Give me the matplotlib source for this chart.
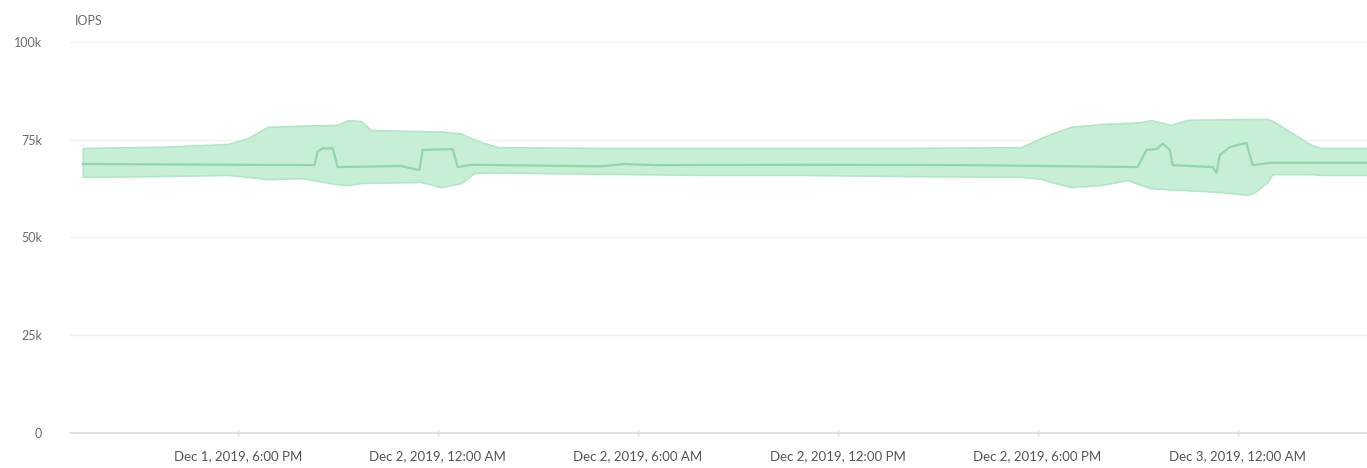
import pandas as pd
import matplotlib.pyplot as plt
import matplotlib.dates as mdates

# band (min/max), values in thousands
band_time = [
    "2019-12-01 13:21", "2019-12-01 15:42", "2019-12-01 17:42", "2019-12-01 18:18",
    "2019-12-01 18:54", "2019-12-01 19:54", "2019-12-01 21:00", "2019-12-01 21:18",
    "2019-12-01 21:42", "2019-12-01 22:00", "2019-12-01 22:54", "2019-12-01 23:30",
    "2019-12-02 00:06", "2019-12-02 00:42", "2019-12-02 01:06", "2019-12-02 01:48",
    "2019-12-02 04:54", "2019-12-02 08:00", "2019-12-02 11:00", "2019-12-02 14:00",
    "2019-12-02 17:30", "2019-12-02 18:06", "2019-12-02 18:24", "2019-12-02 19:00",
    "2019-12-02 19:54", "2019-12-02 20:42", "2019-12-02 21:06", "2019-12-02 21:24",
    "2019-12-02 22:00", "2019-12-02 22:30", "2019-12-02 23:30", "2019-12-03 00:18",
    "2019-12-03 00:30", "2019-12-03 00:54", "2019-12-03 01:03", "2019-12-03 02:12",
    "2019-12-03 02:30", "2019-12-03 03:54",
]
band_hi = [72.9, 73.2, 73.9, 75.4, 78.3, 78.6, 78.8, 80.0, 79.8, 77.5, 77.3, 77.2,
           77.1, 76.6, 75.0, 73.1, 72.9, 72.9, 72.9, 72.9, 73.1, 75.4, 76.5, 78.3,
           79.0, 79.3, 79.5, 80.0, 78.8, 80.1, 80.2, 80.3, 80.3, 80.3, 79.8, 73.7,
           72.9, 72.9]
band_lo = [65.5, 65.7, 66.0, 65.5, 64.9, 65.2, 63.6, 63.4, 63.9, 64.0, 64.1, 64.2,
           62.9, 63.9, 66.5, 66.6, 66.3, 66.0, 66.0, 65.7, 65.5, 65.0, 64.2, 62.9,
           63.4, 64.7, 63.4, 62.6, 62.3, 62.1, 61.6, 60.9, 61.5, 64.2, 66.2, 66.2,
           66.0, 66.0]

# average line
mean_time = [
    "2019-12-01 13:21", "2019-12-01 20:18", "2019-12-01 20:24", "2019-12-01 20:33",
    "2019-12-01 20:51", "2019-12-01 21:00", "2019-12-01 22:54", "2019-12-01 23:18",
    "2019-12-01 23:27", "2019-12-01 23:33", "2019-12-02 00:27", "2019-12-02 00:36",
    "2019-12-02 01:00", "2019-12-02 04:54", "2019-12-02 05:36", "2019-12-02 06:30",
    "2019-12-02 11:00", "2019-12-02 16:00", "2019-12-02 21:00", "2019-12-02 21:16",
    "2019-12-02 21:34", "2019-12-02 21:45", "2019-12-02 21:58", "2019-12-02 22:03",
    "2019-12-02 23:15", "2019-12-02 23:22", "2019-12-02 23:28", "2019-12-02 23:46",
    "2019-12-03 00:16", "2019-12-03 00:27", "2019-12-03 00:58", "2019-12-03 03:54",
]
mean_val = [68.8, 68.5, 72.0, 72.8, 72.8, 68.0, 68.3, 67.5, 67.3, 72.4, 72.6, 68.0,
            68.6, 68.2, 68.8, 68.5, 68.6, 68.5, 68.0, 72.4, 72.6, 74.0, 72.4, 68.5,
            68.0, 66.5, 71.1, 73.1, 74.2, 68.5, 69.1, 69.1]

yticks = [0, 25, 50, 75, 100]
ytick_labels = ["0", "25k", "50k", "75k", "100k"]
xticks = ["2019-12-01 18:00", "2019-12-02 00:00", "2019-12-02 06:00",
          "2019-12-02 12:00", "2019-12-02 18:00", "2019-12-03 00:00"]

plt.rcParams['font.family'] = ['Lato', 'DejaVu Sans']

bt = pd.to_datetime(band_time)
mt = pd.to_datetime(mean_time)
xt = pd.to_datetime(xticks)

fig = plt.figure(figsize=(13.67, 4.68), dpi=100)
ax = fig.add_axes([0.0512, 0.0748, 0.9488, 0.8355])

ax.fill_between(bt, band_lo, band_hi, facecolor="#c6efd6", edgecolor="#b3e6c6", linewidth=1.2)
ax.plot(mt, mean_val, color="#92d6ab", linewidth=1.6)

ax.set_ylim(0, 100)
ax.set_xlim(pd.Timestamp("2019-12-01 12:58"), pd.Timestamp("2019-12-03 03:53"))

ax.set_yticks(yticks)
ax.set_yticklabels(ytick_labels)
ax.set_xticks(xt)
ax.set_xticklabels([d.strftime("%b %-d, %Y, %-I:%M %p") for d in xt])

for v in yticks[1:]:
    ax.axhline(v, color="#f2f2f2", linewidth=1, zorder=0)

for s in ["top", "right", "left"]:
    ax.spines[s].set_visible(False)
ax.spines["bottom"].set_color("#dcdcdc")
ax.spines["bottom"].set_linewidth(1.2)

ax.tick_params(axis="y", length=0, pad=20, labelsize=9, labelcolor="#6b6b6b")
ax.tick_params(axis="x", length=4, width=1, color="#dcdcdc", direction="inout",
               pad=10, labelsize=9.5, labelcolor="#555555")

fig.text(0.055, 0.955, "IOPS", fontsize=9, color="#6b6b6b", va="center", ha="left")

fig.savefig("out.png", dpi=100)
